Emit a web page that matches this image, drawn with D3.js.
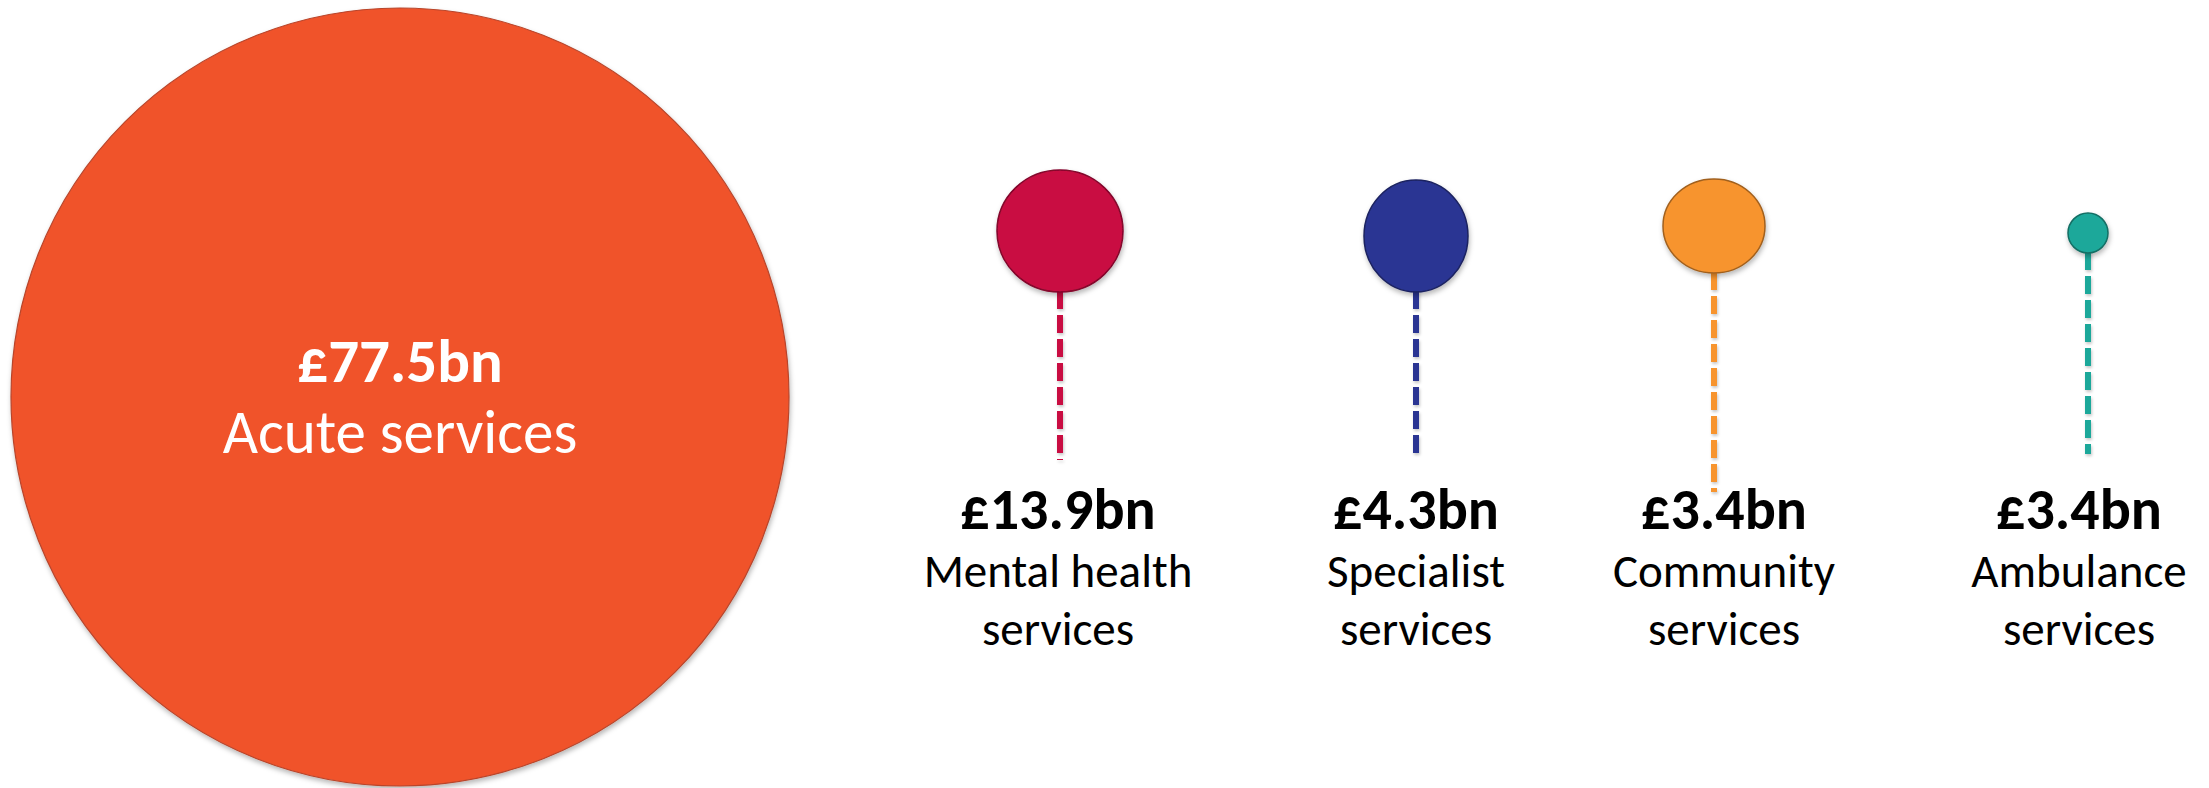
<!DOCTYPE html>
<html>
<head>
<meta charset="utf-8">
<script src="https://cdn.jsdelivr.net/npm/d3@7"></script>
<style>
  html, body { margin: 0; padding: 0; background: #ffffff; }
  svg { display: block; }
  text { font-family: Carlito, Calibri, Lato, "Noto Sans", sans-serif; }
</style>
</head>
<body>
<svg id="chart" width="2209" height="788"></svg>
<script>
// NHS provider spending by sector, £ billions
const categories = ["Acute services", "Mental health services", "Specialist services", "Community services", "Ambulance services"];
const labelLines = [["Acute services"], ["Mental health", "services"], ["Specialist", "services"], ["Community", "services"], ["Ambulance", "services"]];
const spendBn = [77.5, 13.9, 4.3, 3.4, 3.4];
const colours = ["#F0532C", "#C90A42", "#2A3593", "#F7942E", "#1BA89A"];

const fmt = v => "£" + d3.format(".1f")(v) + "bn";

const W = 2209, H = 788;
const svg = d3.select("#chart");

const defs = svg.append("defs");
const shadow = defs.append("filter").attr("id", "soft")
  .attr("x", "-30%").attr("y", "-30%").attr("width", "160%").attr("height", "160%");
shadow.append("feDropShadow").attr("dx", 1).attr("dy", 3).attr("stdDeviation", 2.5)
  .attr("flood-color", "#000").attr("flood-opacity", 0.28);
// strings are zero-width boxes, so their shadow works in user space
const lineShadow = defs.append("filter").attr("id", "softLine")
  .attr("filterUnits", "userSpaceOnUse")
  .attr("x", 0).attr("y", 0).attr("width", W).attr("height", H);
lineShadow.append("feDropShadow").attr("dx", 1).attr("dy", 2).attr("stdDeviation", 1.5)
  .attr("flood-color", "#000").attr("flood-opacity", 0.22);

// The large sector gets its own circle; the rest hang as balloons.
const big = { name: categories[0], value: spendBn[0], lines: labelLines[0], colour: colours[0] };
const balloons = categories.slice(1).map((c, i) => ({
  name: c, value: spendBn[i + 1], lines: labelLines[i + 1], colour: colours[i + 1]
}));

// big circle, area-based radius
const rBig = d3.scaleSqrt().domain([0, big.value]).range([0, 389]);
const bigG = svg.append("g").attr("transform", "translate(400,397)");
bigG.append("circle")
  .attr("r", rBig(big.value))
  .attr("fill", big.colour)
  .attr("stroke", "#b8452a").attr("stroke-width", 1.2)
  .attr("filter", "url(#soft)");
bigG.append("text")
  .attr("text-anchor", "middle").attr("y", -15)
  .attr("fill", "#fff").attr("font-weight", 700).attr("font-size", 61)
  .text(fmt(big.value));
bigG.append("text")
  .attr("text-anchor", "middle").attr("y", 56)
  .attr("fill", "#fff").attr("font-size", 61)
  .text(big.lines[0]);

// balloon layout
const names = balloons.map(d => d.name);
const xPos = d3.scaleOrdinal().domain(names).range([1060, 1416, 1714, 2088]);
const labelX = d3.scaleOrdinal().domain(names).range([1058, 1416, 1724, 2079]);
const yPos = d3.scaleOrdinal().domain(names).range([231, 236, 226, 233]);
const rx = d3.scaleOrdinal().domain(names).range([63, 52, 51, 20]);
const ry = d3.scaleOrdinal().domain(names).range([61, 56, 47, 20]);
const stringEnd = d3.scaleOrdinal().domain(names).range([460, 457, 492, 454]);

const g = svg.append("g").selectAll("g").data(balloons).join("g");

g.append("line")
  .attr("x1", d => xPos(d.name)).attr("x2", d => xPos(d.name))
  .attr("y1", d => yPos(d.name) + ry(d.name) - 1)
  .attr("y2", d => stringEnd(d.name))
  .attr("stroke", d => d.colour)
  .attr("stroke-width", 6)
  .attr("stroke-dasharray", "18 6")
  .attr("filter", "url(#softLine)");

g.append("ellipse")
  .attr("cx", d => xPos(d.name)).attr("cy", d => yPos(d.name))
  .attr("rx", d => rx(d.name)).attr("ry", d => ry(d.name))
  .attr("fill", d => d.colour)
  .attr("stroke", d => d3.color(d.colour).darker(1.2))
  .attr("stroke-width", 1.5)
  .attr("filter", "url(#soft)");

g.append("text")
  .attr("x", d => labelX(d.name)).attr("y", 529)
  .attr("text-anchor", "middle")
  .attr("font-weight", 700).attr("font-size", 58)
  .attr("fill", "#000")
  .text(d => fmt(d.value));

g.each(function(d) {
  d3.select(this).selectAll("text.lbl").data(d.lines).join("text")
    .attr("class", "lbl")
    .attr("x", labelX(d.name))
    .attr("y", (l, i) => 587 + i * 58)
    .attr("text-anchor", "middle")
    .attr("font-size", 47)
    .attr("fill", "#000")
    .text(l => l);
});
</script>
</body>
</html>
